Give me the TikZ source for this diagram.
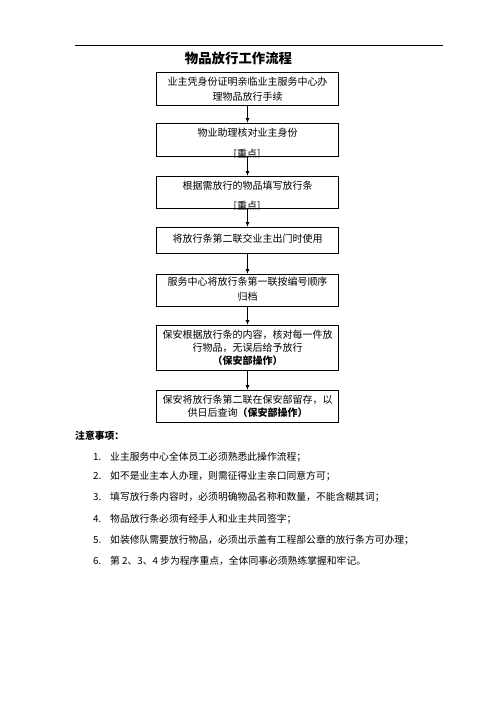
\documentclass[tikz,border=0pt]{standalone}
\usepackage{fontspec}
\newfontfamily\cjk{Noto Sans CJK SC}
\usetikzlibrary{arrows.meta}
\begin{document}
\begin{tikzpicture}[x=1pt,y=-1pt,
  flowbox/.style={draw=black,line width=1.1pt,minimum width=182pt,inner sep=0pt,anchor=north},
  boxtxt/.style={font=\cjk\fontsize{10}{15}\selectfont,align=center,inner sep=0pt},
  conn/.style={line width=0.9pt,-{Latex[length=5pt,width=4pt]}},
  notetxt/.style={font=\cjk\fontsize{9.8}{12}\selectfont,anchor=west,inner sep=0pt}]
\useasboundingbox[fill=white] (0,0) rectangle (496,702);
\draw[line width=1pt] (75,45) coordinate (tl) -- (443,45) coordinate (tr);
\node[font=\cjk\bfseries\fontsize{13.4}{16}\selectfont,inner sep=0pt] (title) at (238.5,58) {物品放行工作流程};
% boxes
\node[flowbox,minimum height=33pt] (b1) at (247.5,72) {};
\node[boxtxt] (t1) at (247.5,89.5) {业主凭身份证明亲临业主服务中心办\\理物品放行手续};
\node[flowbox,minimum height=33pt] (b2) at (247.5,123) {};
\node[boxtxt] (t2) at (247.5,133) {物业助理核对业主身份};
\begin{scope}
\clip (b2.south west) rectangle (b2.north east);
\node[boxtxt] (k2) at (247,154) {[重点]};
\end{scope}
\node[flowbox,minimum height=32pt] (b3) at (247.5,176) {};
\node[boxtxt] (t3) at (247.5,186) {根据需放行的物品填写放行条};
\begin{scope}
\clip (b3.south west) rectangle (b3.north east);
\node[boxtxt] (k3) at (247,206) {[重点]};
\end{scope}
\node[flowbox,minimum height=26pt] (b4) at (247.5,227) {};
\node[boxtxt] (t4) at (247.5,239) {将放行条第二联交业主出门时使用};
\node[flowbox,minimum height=32pt] (b5) at (247.5,274) {};
\node[boxtxt] (t5) at (247.5,289.5) {服务中心将放行条第一联按编号顺序\\归档};
\node[flowbox,minimum height=45pt] (b6) at (247.5,325) {};
\node[boxtxt,font=\cjk\fontsize{10}{13}\selectfont] (t6) at (247.5,347.5) {保安根据放行条的内容，核对每一件放\\行物品，无误后给予放行\\\textbf{（保安部操作）}};
\node[flowbox,minimum height=32pt] (b7) at (247.5,390) {};
\node[boxtxt,font=\cjk\fontsize{10}{13.5}\selectfont] (t7) at (247.5,406.5) {保安将放行条第二联在保安部留存，以\\供日后查询\textbf{（保安部操作）}};
% arrows
\draw[conn] (b1.south) -- (b2.north);
\draw[conn] (b2.south) -- (b3.north);
\draw[conn] (b3.south) -- (b4.north);
\draw[conn] (b4.south) -- (b5.north);
\draw[conn] (b5.south) -- (b6.north);
\draw[conn] (b6.south) -- (b7.north);
% notes
\node[notetxt,font=\cjk\bfseries\fontsize{9.8}{12}\selectfont] (nh) at (75,436) {注意事项：};
\foreach \i/\yy/\txt in {1/457/业主服务中心全体员工必须熟悉此操作流程；,
  2/476/如不是业主本人办理，则需征得业主亲口同意方可；,
  3/497/填写放行条内容时，必须明确物品名称和数量，不能含糊其词；,
  4/519/物品放行条必须有经手人和业主共同签字；,
  5/540/如装修队需要放行物品，必须出示盖有工程部公章的放行条方可办理；,
  6/561/{第 2、3、4 步为程序重点，全体同事必须熟练掌握和牢记。}}{
  \node[notetxt] (n\i) at (93,\yy) {\i.};
  \node[notetxt] (m\i) at (110,\yy) {\txt};
}
\end{tikzpicture}
\end{document}
